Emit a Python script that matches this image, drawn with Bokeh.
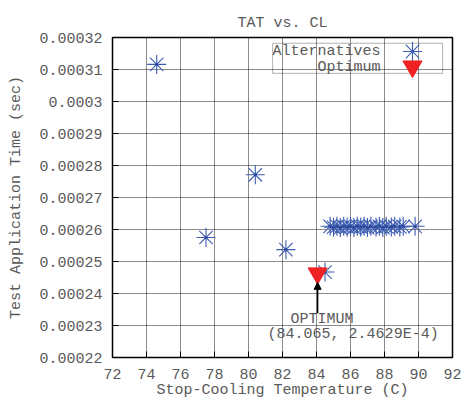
from bokeh.plotting import figure
from bokeh.models import (FixedTicker, Range1d, Arrow, NormalHead, Label,
                          BoxAnnotation, Legend, LegendItem, ColumnDataSource)
from bokeh.embed import file_html
from bokeh.resources import INLINE
from bokeh.core.properties import value

# ---------------- data ----------------
alt_x = [74.6, 77.5, 80.4, 82.2, 84.5,
         84.8, 85.0, 85.2, 85.4, 85.6, 85.8, 86.0, 86.2, 86.4, 86.6, 86.8,
         87.0, 87.2, 87.5, 87.7, 87.9, 88.1, 88.4, 88.6, 88.9, 89.1, 89.8]
alt_y = [0.0003116, 0.0002575, 0.0002771, 0.0002537, 0.0002467,
         0.0002610, 0.0002607, 0.0002610, 0.0002606, 0.0002610, 0.0002608, 0.0002610,
         0.0002606, 0.0002610, 0.0002608, 0.0002610, 0.0002606, 0.0002610, 0.0002608,
         0.0002610, 0.0002606, 0.0002610, 0.0002608, 0.0002610, 0.0002608, 0.0002610,
         0.0002610]
opt_x = [84.065]
opt_y = [0.00024629]
opt_label = "(84.065, 2.4629E-4)"

x_ticks = [72, 74, 76, 78, 80, 82, 84, 86, 88, 90, 92]
y_ticks = [0.00022, 0.00023, 0.00024, 0.00025, 0.00026, 0.00027,
           0.00028, 0.00029, 0.0003, 0.00031, 0.00032]
y_tick_labels = ["0.00022", "0.00023", "0.00024", "0.00025", "0.00026", "0.00027",
                 "0.00028", "0.00029", "0.0003", "0.00031", "0.00032"]

FONT = "Liberation Mono"
FS = "15px"
TXT = "#5a5a5a"
STAR = "#3d5db3"
RED = "#ee2222"

x0, x1 = x_ticks[0], x_ticks[-1]
y0, y1 = y_ticks[0], y_ticks[-1]

p = figure(width=465, height=401, output_backend="svg", toolbar_location=None,
           x_range=Range1d(x0, x1), y_range=Range1d(y0, y1),
           min_border_left=112, min_border_right=13, min_border_top=37, min_border_bottom=44,
           title="TAT vs. CL")
p.background_fill_color = "white"
p.border_fill_color = "white"
p.outline_line_color = "black"
p.outline_line_width = 1.5

p.title.align = "center"
p.title.text_font = FONT
p.title.text_font_size = FS
p.title.text_font_style = "normal"
p.title.text_color = TXT
p.title.standoff = 12

# axes
p.xaxis.ticker = FixedTicker(ticks=x_ticks)
p.yaxis.ticker = FixedTicker(ticks=y_ticks)
p.yaxis.major_label_overrides = {t: l for t, l in zip(y_ticks, y_tick_labels)}
p.xaxis.axis_label = "Stop-Cooling Temperature (C)"
p.yaxis.axis_label = "Test Application Time (sec)"
for ax in (p.xaxis, p.yaxis):
    ax.major_label_text_font = FONT
    ax.major_label_text_font_size = FS
    ax.major_label_text_color = TXT
    ax.axis_label_text_font = FONT
    ax.axis_label_text_font_size = FS
    ax.axis_label_text_font_style = "normal"
    ax.axis_label_text_color = TXT
    ax.major_tick_in = 6
    ax.major_tick_out = 0
    ax.major_tick_line_color = "black"
    ax.minor_tick_line_color = None
    ax.axis_line_color = None
p.xaxis.major_label_standoff = 11
p.xaxis.axis_label_standoff = 0
p.yaxis.major_label_standoff = 10
p.yaxis.axis_label_standoff = 11

for g in (p.xgrid, p.ygrid):
    g.grid_line_color = "black"
    g.grid_line_dash = "1 1"
    g.grid_line_width = 1
    g.grid_line_alpha = 0.9

# data
alt_src = ColumnDataSource(dict(x=alt_x, y=alt_y))
opt_src = ColumnDataSource(dict(x=opt_x, y=opt_y))
r_alt = p.scatter("x", "y", source=alt_src, marker="asterisk", size=19,
                  line_color=STAR, line_width=1.1)
r_dot = p.scatter("x", "y", source=alt_src, marker="circle", size=3,
                  line_color=None, fill_color="#2e4a9a")
r_opt = p.scatter("x", "y", source=opt_src, marker="inverted_triangle", size=19,
                  fill_color=RED, line_color=RED)

# annotation arrow and labels
p.add_layout(Arrow(end=NormalHead(size=7, fill_color="black", line_color="black"),
                   x_start=opt_x[0], y_start=opt_y[0] - 0.0000125,
                   x_end=opt_x[0], y_end=opt_y[0] - 0.0000028,
                   line_color="black", line_width=1.5))
p.add_layout(Label(x=opt_x[0], y=opt_y[0], x_offset=-27, y_offset=-46, text="OPTIMUM",
                   text_font=FONT, text_font_size=FS, text_color=TXT,
                   text_baseline="middle", text_align="left"))
p.add_layout(Label(x=opt_x[0], y=opt_y[0], x_offset=-50, y_offset=-61, text=opt_label,
                   text_font=FONT, text_font_size=FS, text_color=TXT,
                   text_baseline="middle", text_align="left"))

# key: box + right-aligned text + symbols on the right
fx = lambda f: x0 + f * (x1 - x0)
fy = lambda f: y0 + f * (y1 - y0)
p.add_layout(BoxAnnotation(left=fx(0.471), right=fx(0.971), top=fy(0.982), bottom=fy(0.888),
                           fill_alpha=0, line_color="black", line_width=1))
p.add_layout(Label(x=fx(0.788), y=fy(0.957), text="Alternatives", text_font=FONT,
                   text_font_size=FS, text_color=TXT, text_align="right",
                   text_baseline="middle"))
p.add_layout(Label(x=fx(0.788), y=fy(0.905), text="Optimum", text_font=FONT,
                   text_font_size=FS, text_color=TXT, text_align="right",
                   text_baseline="middle"))


def key(renderers, loc):
    return Legend(items=[LegendItem(label=value(""), renderers=renderers)],
                  location=loc, glyph_width=48, glyph_height=48, spacing=0,
                  padding=0, margin=0, label_standoff=0, label_width=0, label_height=0,
                  border_line_color=None, background_fill_alpha=0)


p.add_layout(key([r_alt], (276, 282)), "center")
p.add_layout(key([r_opt], (276, 267)), "center")

open("out.html", "w").write(file_html(p, INLINE))
